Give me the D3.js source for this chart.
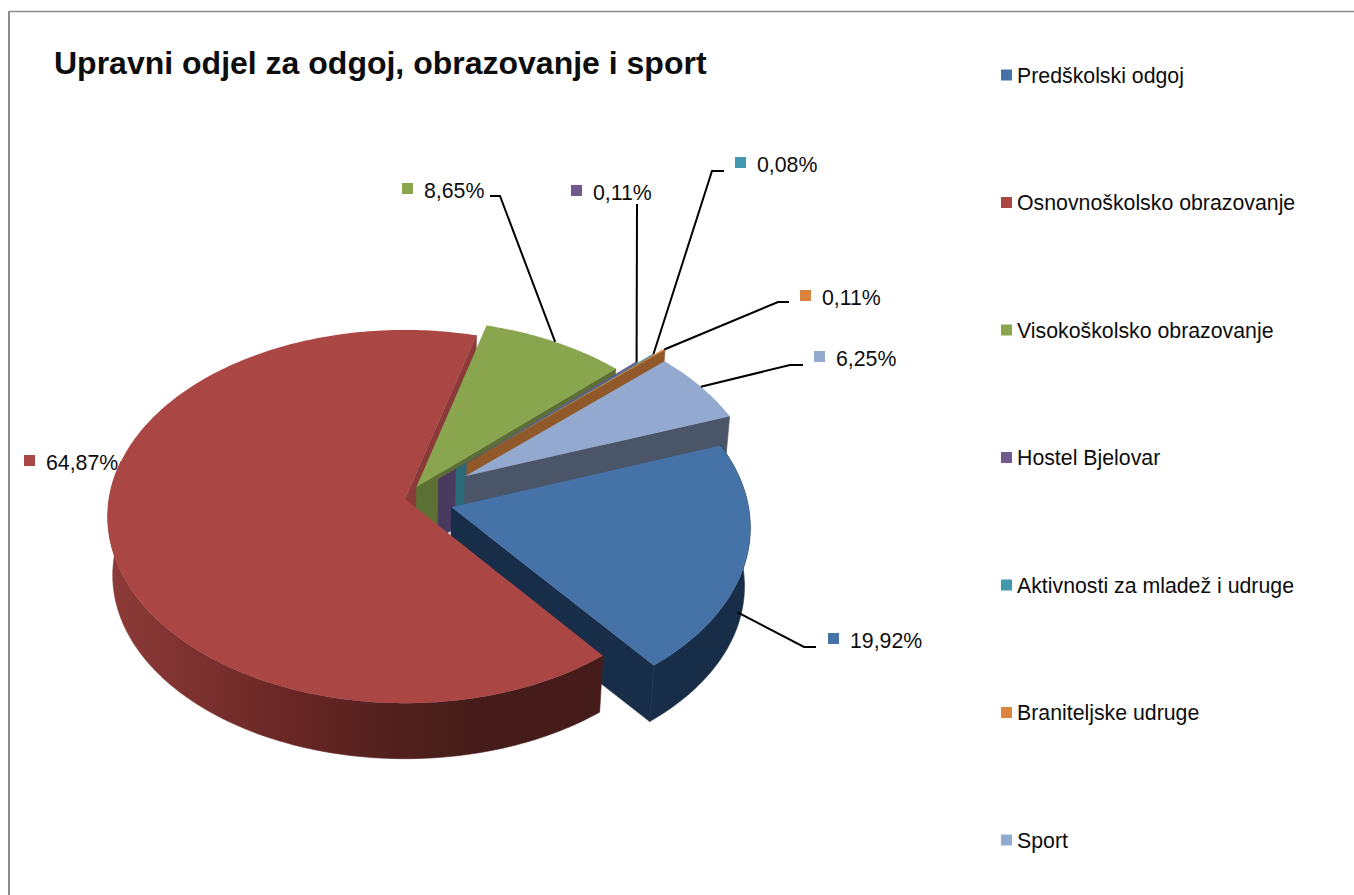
<!DOCTYPE html>
<html>
<head>
<meta charset="utf-8">
<script src="https://d3js.org/d3.v7.min.js"></script>
<style>
html,body{margin:0;padding:0;background:#fff;overflow:hidden}
svg{display:block}
text{font-family:"Liberation Sans",Arial,sans-serif;fill:#0d0d0d}
</style>
</head>
<body>
<div id="chart"></div>
<script>
const title = "Upravni odjel za odgoj, obrazovanje i sport";
const categories = ["Predškolski odgoj","Osnovnoškolsko obrazovanje","Visokoškolsko obrazovanje","Hostel Bjelovar","Aktivnosti za mladež i udruge","Braniteljske udruge","Sport"];
const values = [19.92,64.87,8.65,0.11,0.08,0.11,6.25];
const faceColors = ["#4572a7","#aa4643","#89a54e","#71588f","#4198af","#db843d","#93a9cf"];
const wallColors = ["#182d47","#8a3a38","#5d7033","#4b3a60","#2b6878","#91582a","#4a5568"];
const explode = [0.162,0,0.075,0.157,0.24,0.29,0.24];
const drawOrder = [2,3,4,5,6,0,1];
// label placement: marker left/top, then leader polyline bends after the slice anchor
const labelPos = [[828,633],[24,455],[402,183],[571,185],[735,157],[800,290],[814,351]];
const leaderBends = [[[804,647],[816,647]],[],[[500,196],[490,196]],[[637,204]],[[712,171],[724,171]],[[778,302],[789,302]],[[790,365],[803,365]]];

const W = 1354, H = 895;
const cx = 405, cy = 499, sx = 296, sy = 185, persp = 0.094, depthY = 59, depthK = 0.983;
const rad = d => d * Math.PI / 180;

const svg = d3.select("#chart").append("svg").attr("width",W).attr("height",H);

// red wall gradient
const defs = svg.append("defs");
const grad = defs.append("linearGradient").attr("id","redWall").attr("gradientUnits","userSpaceOnUse")
  .attr("x1",107).attr("x2",603).attr("y1",0).attr("y2",0);
[[0,"#8d3b38"],[0.2,"#7a302e"],[0.4,"#652523"],[0.6,"#4f201e"],[0.74,"#451c19"],[1,"#451c19"]]
  .forEach(([o,c])=>grad.append("stop").attr("offset",o).attr("stop-color",c));

// frame
svg.append("line").attr("x1",9).attr("x2",9).attr("y1",11).attr("y2",H).attr("stroke","#8c8c8c").attr("stroke-width",2);
svg.append("line").attr("x1",9).attr("x2",W).attr("y1",11.5).attr("y2",11.5).attr("stroke","#8c8c8c").attr("stroke-width",1.5);

svg.append("text").attr("x",54).attr("y",74).attr("font-size",32).attr("font-weight","bold").text(title);

const pie = d3.pie().sort(null).startAngle(rad(70)).endAngle(rad(430));
const arcs = pie(values);

// tilted, perspective projection of the pie plane; depth 0 = top face, 1 = bottom face
function project(a, r, off, depth){
  const u = off[0] + r*Math.sin(a), v = off[1] - r*Math.cos(a);
  const f = 1/(1 - persp*v);
  let x = cx + sx*u*f, y = cy + sy*v*f;
  const k = 1 + (depthK-1)*depth;
  return [cx + (x-cx)*k, cy + (y-cy)*k + depthY*depth];
}
const line = d3.line();
const arcPts = (a0,a1,off,depth)=>{
  const n = Math.max(2, Math.ceil(Math.abs(a1-a0)/rad(1)));
  return d3.range(n+1).map(i=>project(a0+(a1-a0)*i/n,1,off,depth));
};

const slices = arcs.map((d,i)=>{
  const mid = (d.startAngle+d.endAngle)/2;
  const e = explode[i];
  return {i, d, mid, off:[e*Math.sin(mid), -e*Math.cos(mid)]};
});

const gPie = svg.append("g");
function drawEndWall(g,s){
  const apex0 = project(0,0,s.off,0), apex1 = project(0,0,s.off,1);
  g.append("path").attr("d", line([apex0, project(s.d.endAngle,1,s.off,0), project(s.d.endAngle,1,s.off,1), apex1])+"Z")
    .attr("fill", wallColors[s.i]).attr("stroke", wallColors[s.i]).attr("stroke-width",0.6);
}
function drawOuter(g,s){
  // only the forward-facing part of the rim is ever visible
  const lo = Math.max(s.d.startAngle, rad(60)), hi = Math.min(s.d.endAngle, rad(282));
  if (hi <= lo) return;
  const pts = arcPts(lo,hi,s.off,0).concat(arcPts(hi,lo,s.off,1));
  const fill = s.i===1 ? "url(#redWall)" : wallColors[s.i];
  g.append("path").attr("d", line(pts)+"Z").attr("fill", fill).attr("stroke", fill).attr("stroke-width",0.6);
}
function drawTop(g,s){
  const pts = [project(0,0,s.off,0)].concat(arcPts(s.d.startAngle,s.d.endAngle,s.off,0));
  g.append("path").attr("d", line(pts)+"Z").attr("fill", faceColors[s.i]);
}
// the large slice's cut face sits behind everything that follows it
drawEndWall(gPie, slices[1]);
drawOrder.forEach(i=>{
  const s = slices[i];
  if (i!==1) drawEndWall(gPie,s);
  drawOuter(gPie,s);
  drawTop(gPie,s);
});

// leaders
const gLead = svg.append("g").attr("fill","none").attr("stroke","#000").attr("stroke-width",2);
slices.forEach(s=>{
  const bends = leaderBends[s.i];
  if(!bends.length) return;
  const start = s.i===0 ? project(rad(110),1,s.off,0.68) : project(s.mid,1,s.off,0);
  gLead.append("path").attr("d", line([start].concat(bends)));
});

// data labels
const gLab = svg.append("g");
values.forEach((v,i)=>{
  const [mx,my] = labelPos[i];
  gLab.append("rect").attr("x",mx).attr("y",my).attr("width",11).attr("height",11).attr("fill",faceColors[i]);
  gLab.append("text").attr("x",mx+22).attr("y",my+14.5).attr("font-size",21.3).text(v.toFixed(2).replace(".",",")+"%");
});

// legend
const yLegend = d3.scalePoint().domain(categories).range([75,840]);
const gLeg = svg.append("g");
categories.forEach((c,i)=>{
  const y = yLegend(c);
  gLeg.append("rect").attr("x",1001).attr("y",y-5.5).attr("width",11).attr("height",11).attr("fill",faceColors[i]);
  gLeg.append("text").attr("x",1017).attr("y",y+7.5).attr("font-size",21.3).text(c);
});
</script>
</body>
</html>
